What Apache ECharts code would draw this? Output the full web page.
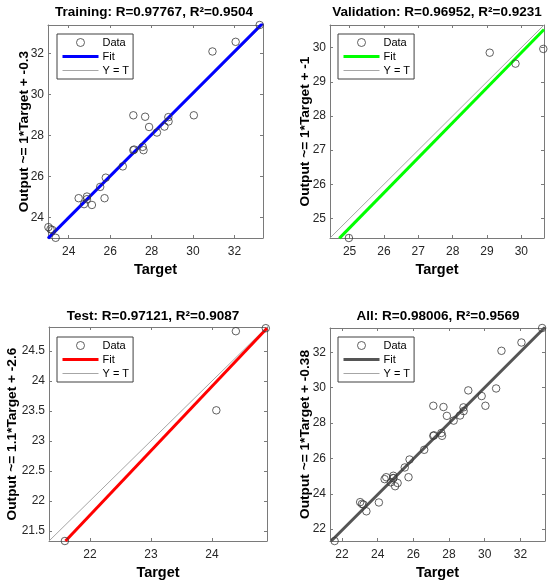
<!DOCTYPE html>
<html>
<head>
<meta charset="utf-8">
<script src="https://cdn.jsdelivr.net/npm/echarts@6/dist/echarts.min.js"></script>
<style>
  html, body { margin: 0; padding: 0; background: #fff; }
  #myChart { width: 550px; height: 583px; }
</style>
</head>
<body>
<div id="myChart"></div>
<script>
// values
const trainTarget = [23.02, 23.12, 23.21, 23.37, 24.48, 24.74, 24.88, 24.88, 25.12, 25.52, 25.73, 25.79, 26.61, 27.12,
    27.16, 27.12, 27.57, 27.61, 27.69, 27.88, 28.26, 28.62, 28.81, 28.82, 30.04, 30.94, 32.06, 33.22];
const trainOutput = [23.53, 23.43, 23.39, 23.01, 24.94, 24.65, 25.02, 24.89, 24.61, 25.49, 24.94, 25.94, 26.49, 27.28,
    27.31, 28.98, 27.44, 27.28, 28.91, 28.41, 28.14, 28.43, 28.89, 28.68, 28.98, 32.09, 32.56, 33.38];
const valTarget = [24.98, 29.08, 29.83, 30.64];
const valOutput = [24.43, 29.85, 29.53, 29.96];
const testTarget = [21.59, 24.39, 24.07, 24.88];
const testOutput = [21.33, 24.83, 23.51, 24.88];

// fit line end points [target, output]
const trainFit = [[23.0, 22.98], [33.38, 33.48]];
const valFit = [[24.70, 24.42], [30.66, 30.53]];
const testFit = [[21.60, 21.33], [24.90, 24.88]];
const allFit = [[21.40, 21.33], [33.38, 33.42]];

// axis limits [min, max] (same for target and output)
const trainRange = [23.0, 33.38];
const valRange = [24.43, 30.66];
const testRange = [21.33, 24.90];
const allRange = [21.33, 33.38];

// tick labels
const trainTicks = [24, 26, 28, 30, 32];
const valTicks = [25, 26, 27, 28, 29, 30];
const testXTicks = [22, 23, 24];
const testYTicks = [21.5, 22, 22.5, 23, 23.5, 24, 24.5];
const allTicks = [22, 24, 26, 28, 30, 32];

const titles = ['Training: R=0.97767, R²=0.9504', 'Validation: R=0.96952, R²=0.9231',
    'Test: R=0.97121, R²=0.9087', 'All: R=0.98006, R²=0.9569'];
const yNames = ['Output ~= 1*Target + -0.3', 'Output ~= 1*Target + -1',
    'Output ~= 1.1*Target + -2.6', 'Output ~= 1*Target + -0.38'];
const fitColors = ['#0000ff', '#00ff00', '#ff0000', '#555555'];

function zip(a, b){
    return a.map((v, i) => [v, b[i]]);
}

const allTarget = trainTarget.concat(valTarget, testTarget);
const allOutput = trainOutput.concat(valOutput, testOutput);

const panels = [
    { data: zip(trainTarget, trainOutput), fit: trainFit, range: trainRange, xt: trainTicks, yt: trainTicks,
      grid: { left: 48, top: 25, width: 215, height: 213 }, titleX: 154, titleY: 4, yGap: 17, legend: [57, 34] },
    { data: zip(valTarget, valOutput), fit: valFit, range: valRange, xt: valTicks, yt: valTicks,
      grid: { left: 330, top: 25, width: 214, height: 213 }, titleX: 437, titleY: 4, yGap: 18, legend: [338, 34] },
    { data: zip(testTarget, testOutput), fit: testFit, range: testRange, xt: testXTicks, yt: testYTicks,
      grid: { left: 49, top: 327, width: 218, height: 214 }, titleX: 153, titleY: 308, yGap: 30, legend: [57, 337] },
    { data: zip(allTarget, allOutput), fit: allFit, range: allRange, xt: allTicks, yt: allTicks,
      grid: { left: 330, top: 328, width: 215, height: 213 }, titleX: 438, titleY: 308, yGap: 18, legend: [338, 337] }
];

const font = '"Liberation Sans", Arial, Helvetica, sans-serif';
const axisColor = '#7a7a7a';
const textColor = '#262626';

let grid = [], xAxis = [], yAxis = [], series = [], title = [], legend = [];

function mainAxis(p, i, ticks, isX){
    let ax = {
        type: 'value',
        gridIndex: i,
        min: p.range[0],
        max: p.range[1],
        axisLine: { show: true, onZero: false, lineStyle: { color: axisColor, width: 1 } },
        axisTick: { show: true, inside: true, length: 3, customValues: ticks, lineStyle: { color: axisColor } },
        axisLabel: { show: true, customValues: ticks, color: textColor, fontSize: 12, fontFamily: font, margin: isX ? 8 : 4 },
        splitLine: { show: false },
        nameLocation: 'middle',
        nameMoveOverlap: false,
        nameTextStyle: { fontSize: 14.5, fontWeight: 'bold', fontFamily: font, color: '#000' }
    };
    if(isX){
        ax.position = 'bottom';
        ax.name = 'Target';
        ax.nameGap = 24;
    } else {
        ax.position = 'left';
        ax.name = yNames[i];
        ax.nameGap = p.yGap;
        ax.nameTextStyle.fontSize = 13.7;
    }
    return ax;
}

function boxAxis(p, i, ticks, isX){
    return {
        type: 'value',
        gridIndex: i,
        position: isX ? 'top' : 'right',
        min: p.range[0],
        max: p.range[1],
        axisLine: { show: true, onZero: false, lineStyle: { color: axisColor, width: 1 } },
        axisTick: { show: true, inside: true, length: 3, customValues: ticks, lineStyle: { color: axisColor } },
        axisLabel: { show: false },
        splitLine: { show: false }
    };
}

panels.forEach((p, i) => {
    grid.push(Object.assign({ containLabel: false }, p.grid));
    title.push({
        text: titles[i],
        left: p.titleX,
        top: p.titleY + 1,
        padding: 0,
        textAlign: 'center',
        textStyle: { fontSize: 13.5, fontWeight: 'bold', fontFamily: font, color: '#000' }
    });
    const pad = ' '.repeat(i);
    const names = ['Data' + pad, 'Fit' + pad, 'Y = T' + pad];
    legend.push({
        data: [
            { name: names[0], itemStyle: { color: 'rgba(0,0,0,0)', borderColor: '#3a3a3a', borderWidth: 1 } },
            { name: names[1], itemStyle: { opacity: 0 }, lineStyle: { color: fitColors[i], width: 3 } },
            { name: names[2], itemStyle: { opacity: 0 }, lineStyle: { color: '#a6a6a6', width: 1 } }
        ],
        orient: 'vertical',
        left: p.legend[0],
        top: p.legend[1],
        itemWidth: 36,
        itemHeight: 8,
        itemGap: 3,
        padding: [3, 4, 3, 4],
        borderColor: '#404040',
        borderWidth: 1,
        borderRadius: 0,
        backgroundColor: '#fff',
        selectedMode: false,
        formatter: name => name.trim(),
        textStyle: { fontSize: 11, fontFamily: font, color: '#000', padding: [0, 0, 0, -1] }
    });
    series.push({
        name: names[2],
        type: 'line',
        xAxisIndex: i,
        yAxisIndex: i,
        data: [[p.range[0], p.range[0]], [p.range[1], p.range[1]]],
        symbol: 'none',
        clip: true,
        lineStyle: { color: '#a6a6a6', width: 1 },
        itemStyle: { color: '#a6a6a6', opacity: 0 },
        silent: true,
        z: 2
    });
    series.push({
        name: names[1],
        type: 'line',
        xAxisIndex: i,
        yAxisIndex: i,
        data: p.fit,
        symbol: 'none',
        clip: true,
        lineStyle: { color: fitColors[i], width: 3 },
        itemStyle: { color: fitColors[i], opacity: 0 },
        silent: true,
        z: 3
    });
    series.push({
        name: names[0],
        type: 'scatter',
        xAxisIndex: i,
        yAxisIndex: i,
        data: p.data,
        symbol: 'circle',
        symbolSize: 7.5,
        clip: false,
        itemStyle: { color: 'rgba(0,0,0,0)', borderColor: '#3a3a3a', borderWidth: 1 },
        silent: true,
        z: 4
    });
});

panels.forEach((p, i) => {
    xAxis.push(mainAxis(p, i, p.xt, true));
    yAxis.push(mainAxis(p, i, p.yt, false));
});
panels.forEach((p, i) => {
    xAxis.push(boxAxis(p, i, p.xt, true));
    yAxis.push(boxAxis(p, i, p.yt, false));
});

let chartDom = document.getElementById('myChart');
let myChart = echarts.init(chartDom, null, { renderer: 'canvas' });
let option = {
    backgroundColor: '#fff',
    animation: false,
    title: title,
    legend: legend,
    grid: grid,
    xAxis: xAxis,
    yAxis: yAxis,
    series: series
};
option && myChart.setOption(option);
</script>
</body>
</html>
